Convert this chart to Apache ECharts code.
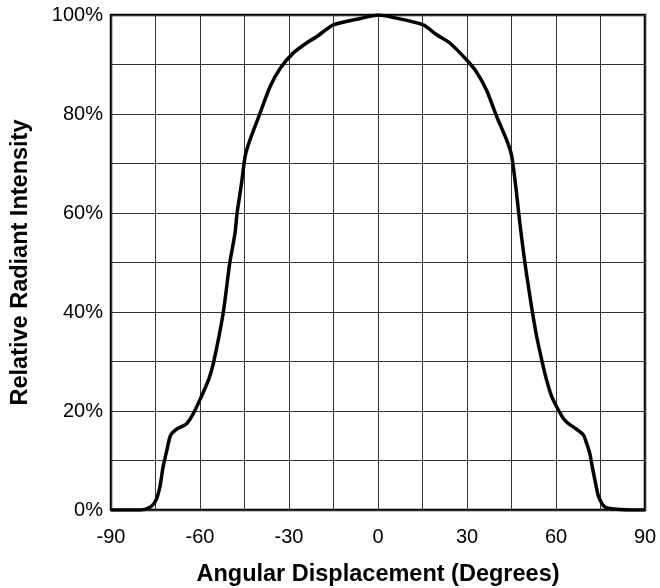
<!doctype html>
<html>
    <head>
        <meta charset="utf-8">
        <title>Relative Radiant Intensity</title>
        <style>
            html, body { margin: 0; padding: 0; background: #fff; }
            #main { width: 660px; height: 588px; }
        </style>
    </head>
    <body>
        <div id="main"></div>
        <script src="https://cdn.jsdelivr.net/npm/echarts@6/dist/echarts.min.js"></script>
        <script>
            // angle (degrees) and relative intensity (%)
            var angles = [-90, -84, -80, -77, -75.5, -74.5, -73.5, -72.5, -71.2, -70,
                -68, -66, -64.5, -62.5, -60, -57, -55.5, -52.2, -50, -48.2,
                -47.5, -46, -44.8, -43.2, -39.8, -36.4, -33, -28.6, -23.5, -20.7,
                -15.1, -6, 0, 5.2, 15.3, 19.8, 24.3, 29.9, 33.3, 36.6,
                40, 43.4, 45.1, 46.7, 47.8, 49.5, 51.5, 53.5, 55.5, 56.8,
                58.5, 60.8, 62.5, 64.1, 66.5, 69.2, 70.3, 71.4, 72.3, 73.1,
                74.2, 75.4, 76.5, 78.2, 81.6, 85, 90];
            var intensity = [0, 0, 0, 0.5, 1.3, 2.5, 4.7, 8.5, 12, 15,
                16.3, 16.9, 17.4, 19.2, 22.3, 26.5, 29.6, 39.7, 49.8, 55.9,
                60, 66, 71.4, 74.7, 80.1, 85.5, 89.2, 92.3, 94.6, 95.6,
                98, 99.3, 100, 99.5, 98, 96, 94.3, 90.9, 88.4, 84.8,
                79.5, 74.7, 71.4, 64, 58, 50, 42, 35, 29.5, 26.3,
                23, 20.2, 18.5, 17.5, 16.5, 15.2, 13.5, 11.4, 8.5, 6.1,
                3, 1.4, 0.6, 0.3, 0.1, 0, 0];

            var xTitle = 'Angular Displacement (Degrees)';
            var yTitle = 'Relative Radiant Intensity';

            var points = angles.map(function (a, i) {
                return [a, intensity[i]];
            });

            var chart = echarts.init(document.getElementById('main'), null, {
                devicePixelRatio: 1
            });

            var font = 'Liberation Sans, Arial, Helvetica, sans-serif';

            chart.setOption({
                animation: false,
                grid: {
                    left: 111,
                    right: 15,
                    top: 15,
                    bottom: 78,
                    containLabel: false,
                    outerBoundsMode: 'none',
                    show: true,
                    borderColor: '#000',
                    borderWidth: 2.5,
                    backgroundColor: '#fff'
                },
                xAxis: {
                    type: 'value',
                    min: -90,
                    max: 90,
                    interval: 15,
                    name: xTitle,
                    nameLocation: 'middle',
                    nameGap: 53,
                    nameTextStyle: {
                        fontFamily: font,
                        fontWeight: 'bold',
                        fontSize: 23.5,
                        color: '#000'
                    },
                    axisLine: { show: false },
                    axisTick: { show: false },
                    axisLabel: {
                        margin: 17,
                        fontFamily: font,
                        fontSize: 20,
                        color: '#000',
                        formatter: function (v) {
                            return v % 30 === 0 ? String(v) : '';
                        }
                    },
                    splitLine: {
                        lineStyle: { color: '#333', width: 1 }
                    }
                },
                yAxis: {
                    type: 'value',
                    min: 0,
                    max: 100,
                    interval: 10,
                    name: yTitle,
                    nameLocation: 'middle',
                    nameGap: 78,
                    nameTextStyle: {
                        fontFamily: font,
                        fontWeight: 'bold',
                        fontSize: 23.5,
                        color: '#000'
                    },
                    axisLine: { show: false },
                    axisTick: { show: false },
                    axisLabel: {
                        margin: 8,
                        fontFamily: font,
                        fontSize: 20,
                        color: '#000',
                        formatter: function (v) {
                            return v % 20 === 0 ? v + '%' : '';
                        }
                    },
                    splitLine: {
                        lineStyle: { color: '#333', width: 1 }
                    }
                },
                series: [{
                    type: 'line',
                    data: points,
                    showSymbol: false,
                    smooth: 0.2,
                    lineStyle: {
                        color: '#000',
                        width: 3.5,
                        join: 'round'
                    }
                }]
            });

            window.onresize = chart.resize;
        </script>
    </body>
</html>
